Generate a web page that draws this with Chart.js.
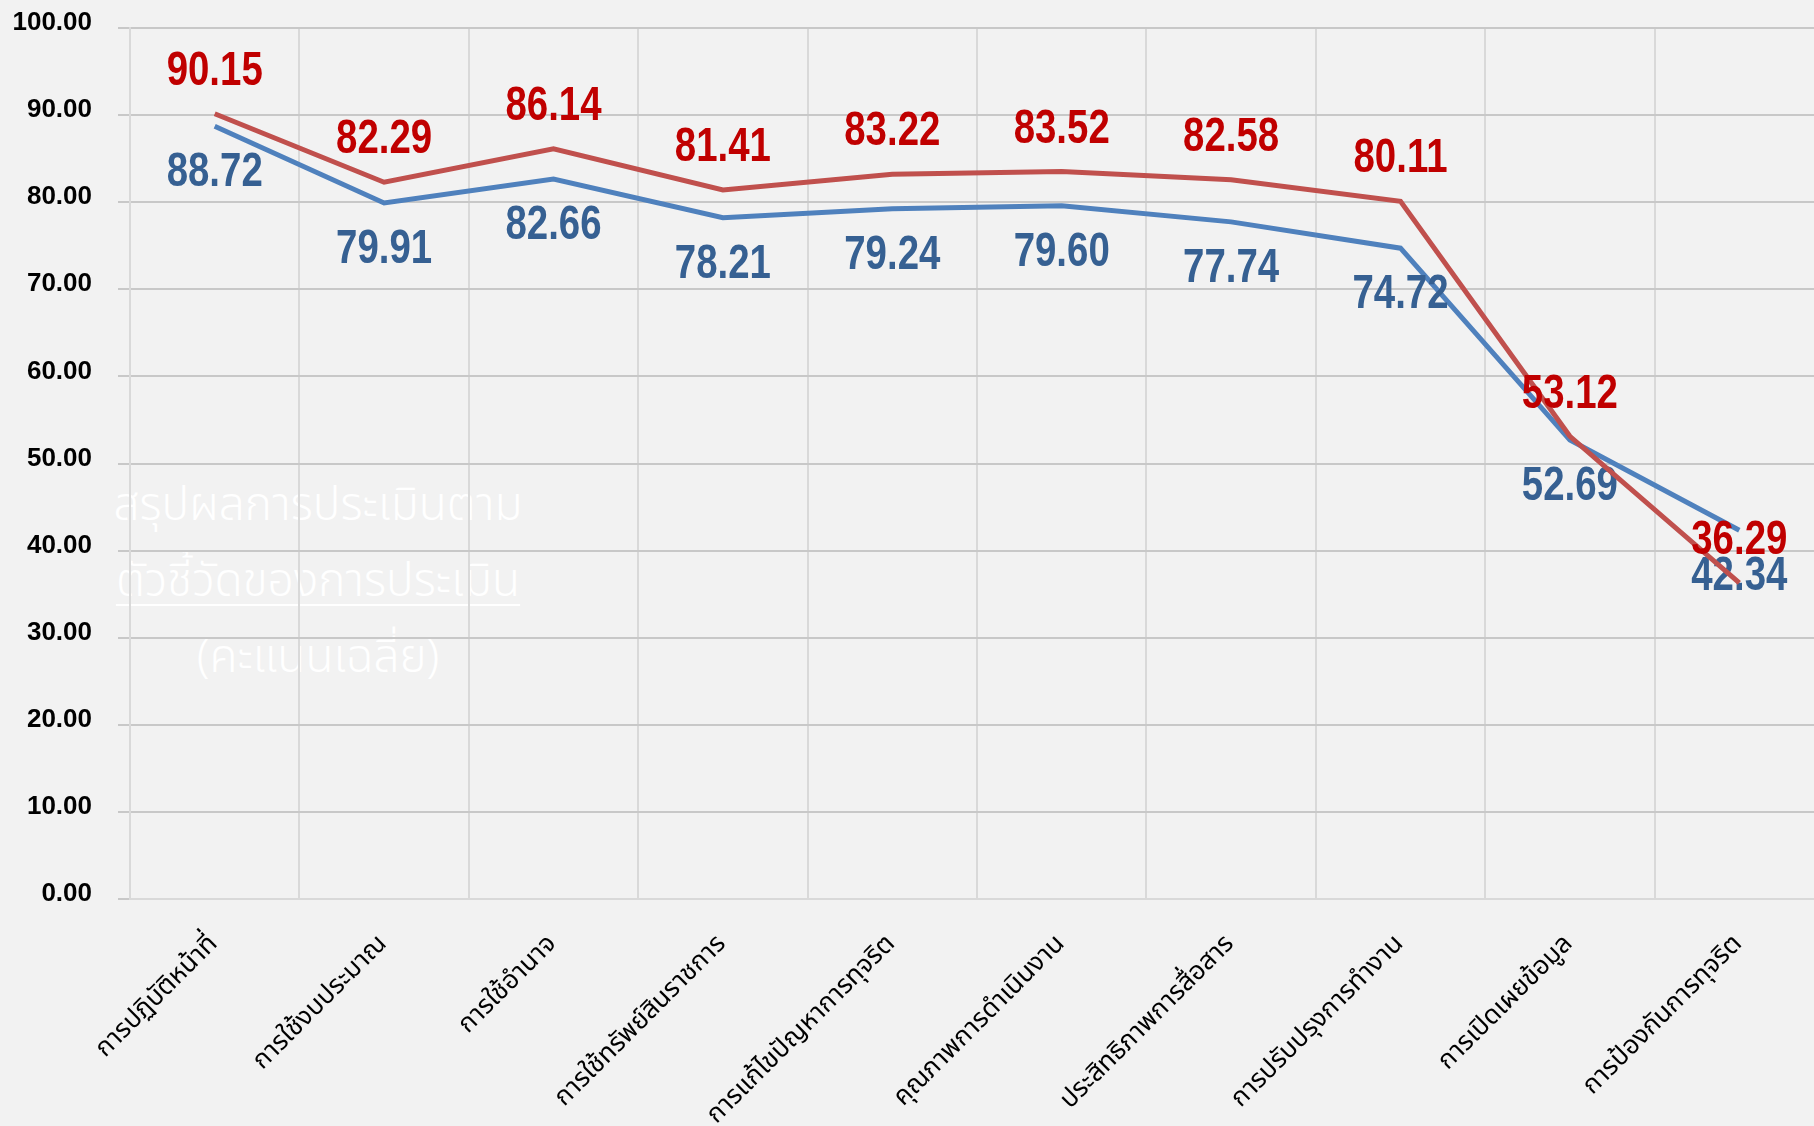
<!DOCTYPE html>
<html>
<head>
<meta charset="utf-8">
<script src="https://cdn.jsdelivr.net/npm/chart.js@4.4.0/dist/chart.umd.min.js"></script>
<style>
  html, body { margin: 0; padding: 0; overflow: hidden; background: #f2f2f2; }
  #wrap { position: relative; width: 1824px; height: 1126px; }
  #chart { position: absolute; left: 0; top: 0; z-index: 1; }
  #note {
    position: absolute; z-index: 0; left: 108px; top: 468px; width: 420px;
    color: #ffffff; text-align: center;
    font-family: "Noto Sans Thai", "Noto Sans", sans-serif; font-size: 46px; font-weight: 300; line-height: 76px;
  }
  #note u { text-decoration-thickness: 2px; text-underline-offset: 8px; }
</style>
</head>
<body>
<div id="wrap">
  <div id="note">สรุปผลการประเมินตาม<br><u>ตัวชี้วัดของการประเมิน</u><br>(คะแนนเฉลี่ย)</div>
  <canvas id="chart" width="1824" height="1126"></canvas>
</div>
<script>
// หมวดตัวชี้วัด
const categories = [
  'การปฏิบัติหน้าที่', 'การใช้งบประมาณ', 'การใช้อำนาจ', 'การใช้ทรัพย์สินราชการ',
  'การแก้ไขปัญหาการทุจริต', 'คุณภาพการดำเนินงาน', 'ประสิทธิภาพการสื่อสาร',
  'การปรับปรุงการทำงาน', 'การเปิดเผยข้อมูล', 'การป้องกันการทุจริต'
];
const redValues = [90.15, 82.29, 86.14, 81.41, 83.22, 83.52, 82.58, 80.11, 53.12, 36.29];
const blueValues = [88.72, 79.91, 82.66, 78.21, 79.24, 79.60, 77.74, 74.72, 52.69, 42.34];
const yTicks = [0, 10, 20, 30, 40, 50, 60, 70, 80, 90, 100];

// ป้ายตัวเลขบนเส้น (วาดเองเพราะไม่มีปลั๊กอิน datalabels)
const valueLabels = {
  id: 'valueLabels',
  afterDatasetDraw(chart, args) {
    const ds = chart.data.datasets[args.index];
    const ctx = chart.ctx;
    ctx.save();
    ctx.font = 'bold 48px "Liberation Sans", Arial, sans-serif';
    ctx.fillStyle = ds.labelColor;
    ctx.textAlign = 'center';
    ctx.textBaseline = 'middle';
    args.meta.data.forEach((pt, i) => {
      // ตัวอักษรแคบแบบ Arial Narrow
      ctx.save();
      ctx.translate(pt.x, pt.y + ds.labelShift);
      ctx.scale(0.8, 1);
      ctx.fillText(ds.data[i].toFixed(2), 0, 0);
      ctx.restore();
    });
    ctx.restore();
  }
};

const loadChart = () => {
  const ctx = document.getElementById('chart').getContext('2d');
  new Chart(ctx, {
    type: 'line',
    data: {
      labels: categories,
      datasets: [
        {
          data: redValues,
          borderColor: '#c0504d',
          borderWidth: 5,
          pointRadius: 0,
          tension: 0,
          labelColor: '#c00000',
          labelShift: -42
        },
        {
          data: blueValues,
          borderColor: '#4f81bd',
          borderWidth: 5,
          pointRadius: 0,
          tension: 0,
          labelColor: '#366092',
          labelShift: 47
        }
      ]
    },
    options: {
      responsive: false,
      animation: false,
      layout: { padding: { top: 28, right: 0, bottom: 0, left: 0 } },
      scales: {
        x: {
          offset: true,
          grid: { offset: true, color: '#d9d9d9', lineWidth: 2, drawTicks: false },
          border: { color: '#d9d9d9', width: 2 },
          ticks: {
            autoSkip: false, minRotation: 45, maxRotation: 45, padding: 31,
            color: '#000', font: { family: '"Noto Sans Thai", sans-serif', size: 26 }
          },
          afterFit: s => { s.height = 227; }
        },
        y: {
          min: 0, max: 100,
          afterBuildTicks: s => { s.ticks = yTicks.map(v => ({ value: v })); },
          grid: { color: '#c8c8c8', lineWidth: 2, tickLength: 12 },
          border: { color: '#d9d9d9', width: 2 },
          ticks: {
            color: '#000', padding: 26, labelOffset: -5,
            font: { family: '"Liberation Sans", Arial, sans-serif', size: 26, weight: 'bold' },
            callback: v => v.toFixed(2)
          },
          afterFit: s => { s.width = 130; s.paddingTop = 0; s.paddingBottom = 0; }
        }
      },
      plugins: { legend: { display: false }, title: { display: false }, tooltip: { enabled: false } }
    },
    plugins: [valueLabels]
  });
};

document.addEventListener('DOMContentLoaded', loadChart);
</script>
</body>
</html>
